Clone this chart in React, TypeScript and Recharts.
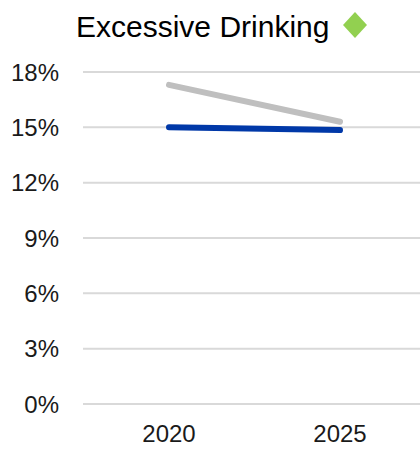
import { CartesianGrid, Line, LineChart, XAxis, YAxis } from 'recharts'

// ─── Données ──────────────────────────────────────────────────────────────────

const YEARS = ['2020', '2025']
const BENCHMARK = [17.3, 15.3]
const LOCAL = [15.0, 14.85]
const Y_TICKS = [0, 3, 6, 9, 12, 15, 18]

const chartData = YEARS.map((year, i) => ({
  year,
  benchmark: BENCHMARK[i],
  local: LOCAL[i],
}))

const FONT = 'Arial, "Liberation Sans", sans-serif'

// ─── Composant ────────────────────────────────────────────────────────────────

export default function App() {
  return (
    <div
      style={{
        position: 'absolute',
        top: 0,
        left: 0,
        width: 420,
        height: 449,
        overflow: 'hidden',
        background: '#fff',
        fontFamily: FONT,
      }}
    >
      {/* Titre + losange */}
      <svg width={420} height={50} style={{ position: 'absolute', top: 0, left: 0 }}>
        <text x={76} y={37} fontSize={30} fill="#000" fontFamily={FONT}>
          Excessive Drinking
        </text>
        <polygon points="355,12 367,25 355,38 343,25" fill="#92d050" />
      </svg>

      <LineChart
        width={426}
        height={449}
        data={chartData}
        margin={{ top: 72, right: 0, bottom: 0, left: 0 }}
      >
        <CartesianGrid vertical={false} stroke="#d9d9d9" strokeWidth={2} />
        <XAxis
          dataKey="year"
          axisLine={false}
          tickLine={false}
          tickSize={0}
          tickMargin={21}
          height={45}
          padding={{ left: 86, right: 86 }}
          tick={{ fontSize: 24, fill: '#1a1a1a', fontFamily: FONT }}
        />
        <YAxis
          domain={[0, 18]}
          ticks={Y_TICKS}
          interval={0}
          axisLine={false}
          tickLine={false}
          tickSize={0}
          tickMargin={24}
          width={83}
          tickFormatter={(v: number) => `${v}%`}
          tick={{ fontSize: 24, fill: '#1a1a1a', fontFamily: FONT }}
        />
        <Line
          dataKey="benchmark"
          stroke="#bfbfbf"
          strokeWidth={6}
          strokeLinecap="round"
          dot={false}
          isAnimationActive={false}
        />
        <Line
          dataKey="local"
          stroke="#0038a8"
          strokeWidth={6}
          strokeLinecap="round"
          dot={false}
          isAnimationActive={false}
        />
      </LineChart>
    </div>
  )
}
